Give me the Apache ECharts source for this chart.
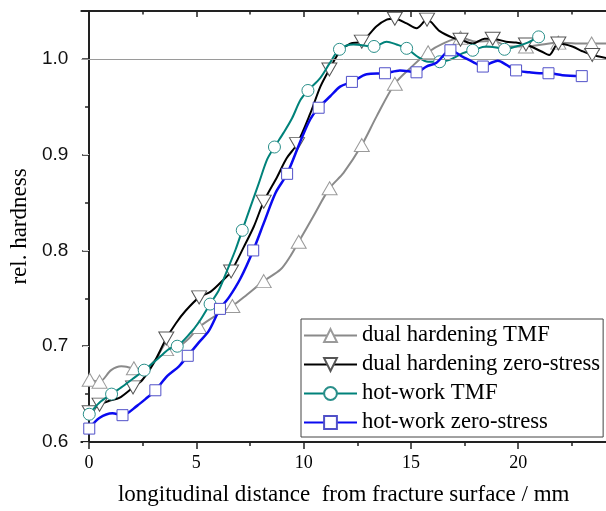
<!DOCTYPE html>
<html>
<head>
<meta charset="utf-8">
<script src="https://cdn.jsdelivr.net/npm/echarts@6/dist/echarts.min.js"></script>
<style>html,body{margin:0;padding:0;background:#fff;}#c{width:606px;height:511px;}</style>
</head>
<body>
<div id="c"></div>
<script>
// ---- data ----
const seriesNames = ['dual hardening TMF', 'dual hardening zero-stress', 'hot-work TMF', 'hot-work zero-stress'];
const xTickLabels = [0, 5, 10, 15, 20];
const yTickLabels = [0.6, 0.7, 0.8, 0.9, 1.0];

// dual hardening TMF (grey, up triangles); M = 1 where a marker is drawn
const dhTmfX = [0.03,0.49,1.03,1.5,2.09,2.6,3.1,3.59,4.19,4.65,5.13,5.83,6.68,7.37,8.14,8.92,9.38,9.77,10.46,11.21,11.86,12.71,13.4,14.25,14.95,15.8,16.49,17.31,18.04,18.81,19.59,20.36,21.13,21.87,22.67,23.42,24.1];
const dhTmfY = [0.665,0.663,0.675,0.679,0.677,0.676,0.686,0.697,0.700,0.708,0.720,0.731,0.742,0.754,0.768,0.780,0.794,0.809,0.836,0.865,0.881,0.910,0.940,0.974,0.990,1.007,1.016,1.022,1.018,1.019,1.013,1.013,1.015,1.017,1.016,1.016,1.016];
const dhTmfM = [1,1,0,0,1,0,0,1,0,0,1,0,1,0,1,0,0,1,0,1,0,1,0,1,0,1,0,1,0,1,0,1,0,1,0,1,0];

// dual hardening zero-stress (black, down triangles)
const dhZsX = [0.03,0.49,0.94,1.41,2.05,2.49,3.03,3.6,4.05,4.5,5.13,5.67,6.29,6.62,7.22,7.68,8.14,8.77,9.2,9.69,10.31,10.78,11.2,11.7,12.17,12.71,13.4,13.87,14.25,14.8,15.26,15.75,16.34,16.96,17.31,17.88,18.43,18.81,19.43,19.9,20.36,21.06,21.44,21.87,22.52,22.99,23.45,24.1];
const dhZsY = [0.631,0.639,0.643,0.646,0.657,0.665,0.683,0.708,0.724,0.737,0.751,0.757,0.770,0.778,0.804,0.825,0.851,0.877,0.896,0.911,0.943,0.971,0.989,1.008,1.016,1.018,1.034,1.041,1.042,1.037,1.032,1.041,1.029,1.022,1.020,1.016,1.021,1.021,1.018,1.017,1.015,1.008,1.004,1.016,1.013,1.008,1.004,1.001];
const dhZsM = [1,1,0,0,1,0,0,1,0,0,1,0,0,1,0,0,1,0,0,1,0,0,1,0,0,1,0,0,1,0,0,1,0,0,1,0,0,1,0,0,1,0,0,1,0,0,1,0];

// hot-work TMF (teal, circles)
const hwTmfX = [0.01,0.48,1.05,1.56,2.1,2.57,3.26,3.72,4.11,4.65,5.12,5.64,6.06,6.45,6.83,7.14,7.53,7.91,8.3,8.64,9.07,9.46,9.85,10.2,10.77,11.2,11.67,12.32,13.28,13.87,14.33,14.8,15.26,15.8,16.34,16.8,17.42,17.88,18.51,18.97,19.36,19.9,20.44,20.95];
const hwTmfY = [0.629,0.641,0.650,0.658,0.667,0.675,0.688,0.697,0.700,0.712,0.725,0.744,0.759,0.780,0.801,0.821,0.846,0.870,0.895,0.908,0.923,0.938,0.957,0.967,0.980,0.995,1.010,1.015,1.013,1.018,1.015,1.011,1.003,0.997,0.997,0.999,1.006,1.009,1.013,1.012,1.010,1.013,1.017,1.023];
const hwTmfM = [1,0,1,0,0,1,0,0,1,0,0,1,0,0,0,1,0,0,0,1,0,0,0,1,0,0,1,0,1,0,0,1,0,0,1,0,0,1,0,0,1,0,0,1];

// hot-work zero-stress (blue, squares)
const hwZsX = [0.01,0.48,1.09,1.56,2.25,2.64,3.09,3.65,4.19,4.6,5.12,5.58,6.1,6.52,7.06,7.65,8.15,8.69,9.23,9.85,10.31,10.7,11.24,11.7,12.25,12.94,13.79,14.49,15.26,15.72,16.19,16.84,17.42,17.88,18.35,18.74,19.05,19.43,19.9,20.52,20.98,21.41,22.06,22.96];
const hwZsY = [0.614,0.625,0.630,0.628,0.638,0.645,0.654,0.669,0.679,0.690,0.704,0.716,0.739,0.751,0.771,0.800,0.829,0.860,0.880,0.914,0.937,0.949,0.961,0.971,0.976,0.984,0.985,0.988,0.986,0.992,0.996,1.009,1.002,0.997,0.992,0.996,0.998,0.994,0.988,0.986,0.985,0.985,0.983,0.982];
const hwZsM = [1,0,0,1,0,0,1,0,0,1,0,0,1,0,0,1,0,0,1,0,0,1,0,0,1,0,1,0,1,0,0,1,0,0,1,0,0,0,1,0,0,1,0,1];

const refLine = 1.0;

// ---- build ----
function build(xs, ys, ms) {
  return xs.map((x, i) => ms[i] ? { value: [x, ys[i]] } : { value: [x, ys[i]], symbol: 'none' });
}
const SERIF = '"Liberation Serif", "Times New Roman", serif';
const SANS = '"Liberation Sans", Arial, sans-serif';
const AX = '#222';

const chart = echarts.init(document.getElementById('c'), null, { renderer: 'canvas' });

function mkSeries(name, data, color, lw, symbol, size, border, z) {
  return {
    name, type: 'line', data, smooth: 0.3, z,
    symbol, symbolSize: size, showSymbol: true, showAllSymbol: true,
    lineStyle: { color, width: lw },
    itemStyle: { color: '#fff', borderColor: border, borderWidth: 1 },
    emphasis: { disabled: true }, animation: false
  };
}

const series = [
  mkSeries(seriesNames[0], build(dhTmfX, dhTmfY, dhTmfM), '#8a8a8a', 2, 'triangle', [15, 13], '#9a9a9a', 2),
  mkSeries(seriesNames[1], build(dhZsX, dhZsY, dhZsM), '#000000', 2, 'path://M0,0 L10,0 L5,9 Z', [15, 13], '#555555', 3),
  mkSeries(seriesNames[2], build(hwTmfX, hwTmfY, hwTmfM), '#00827a', 2, 'circle', 12, '#2a8f8a', 4),
  mkSeries(seriesNames[3], build(hwZsX, hwZsY, hwZsM), '#0a0af0', 2.5, 'rect', 11, '#5050c8', 5)
];
series[0].markLine = {
  silent: true, symbol: 'none', label: { show: false },
  lineStyle: { color: '#9a9a9a', width: 1, type: 'solid' },
  data: [{ yAxis: refLine }], animation: false
};

chart.setOption({
  animation: false,
  backgroundColor: '#fff',
  grid: { left: 80, top: 11, right: -1, bottom: 68, containLabel: false },
  legend: {
    orient: 'vertical', left: 301, top: 319,
    backgroundColor: '#fff', borderColor: '#444', borderWidth: 1,
    padding: [5, 3, 3, 2], itemGap: 6, itemWidth: 53, itemHeight: 16,
    textStyle: { fontFamily: SERIF, fontSize: 22.7, color: '#000', lineHeight: 23 },
    data: seriesNames
  },
  xAxis: [
    {
      type: 'value', position: 'bottom', min: -0.36, max: 24.09, splitNumber: 5,
      name: 'longitudinal distance  from fracture surface / mm', nameLocation: 'middle', nameGap: 41,
      nameTextStyle: { fontFamily: SERIF, fontSize: 23, color: '#000' },
      axisLine: { lineStyle: { color: AX, width: 2 } },
      axisTick: { inside: false, length: 7, lineStyle: { color: AX, width: 1.5 }, customValues: xTickLabels },
      minorTick: { show: true, splitNumber: 2, length: 4, lineStyle: { color: AX, width: 1.5 } },
      axisLabel: { customValues: xTickLabels, margin: 12, fontFamily: SERIF, fontSize: 18, color: '#000' },
      splitLine: { show: false }
    },
    {
      type: 'value', position: 'top', min: -0.36, max: 24.09, splitNumber: 5,
      axisLine: { lineStyle: { color: AX, width: 2 } },
      axisTick: { inside: true, length: 6, lineStyle: { color: AX, width: 1.5 }, customValues: xTickLabels },
      minorTick: { show: true, splitNumber: 2, length: 3.5, lineStyle: { color: AX, width: 1.5 } },
      axisLabel: { show: false }, splitLine: { show: false }
    }
  ],
  yAxis: [
    {
      type: 'value', position: 'left', min: 0.6, max: 1.05, interval: 0.1,
      name: 'rel. hardness', nameLocation: 'middle', nameGap: 44, nameRotate: 90,
      nameTextStyle: { fontFamily: SERIF, fontSize: 23, color: '#000' },
      axisLine: { lineStyle: { color: AX, width: 2 } },
      axisTick: { inside: false, length: 7, lineStyle: { color: AX, width: 1.5 }, customValues: yTickLabels },
      minorTick: { show: true, splitNumber: 2, length: 4, lineStyle: { color: AX, width: 1.5 } },
      axisLabel: { customValues: yTickLabels, margin: 13, fontFamily: SANS, fontSize: 19, color: '#111',
        formatter: v => v.toFixed(1) },
      splitLine: { show: false }
    },
    {
      type: 'value', position: 'right', min: 0.6, max: 1.05, interval: 0.1,
      axisLine: { show: true, lineStyle: { color: AX, width: 2 } },
      axisTick: { inside: true, length: 6, lineStyle: { color: '#ddd', width: 1 }, customValues: yTickLabels },
      axisLabel: { show: false }, splitLine: { show: false }
    }
  ],
  series
});
</script>
</body>
</html>
